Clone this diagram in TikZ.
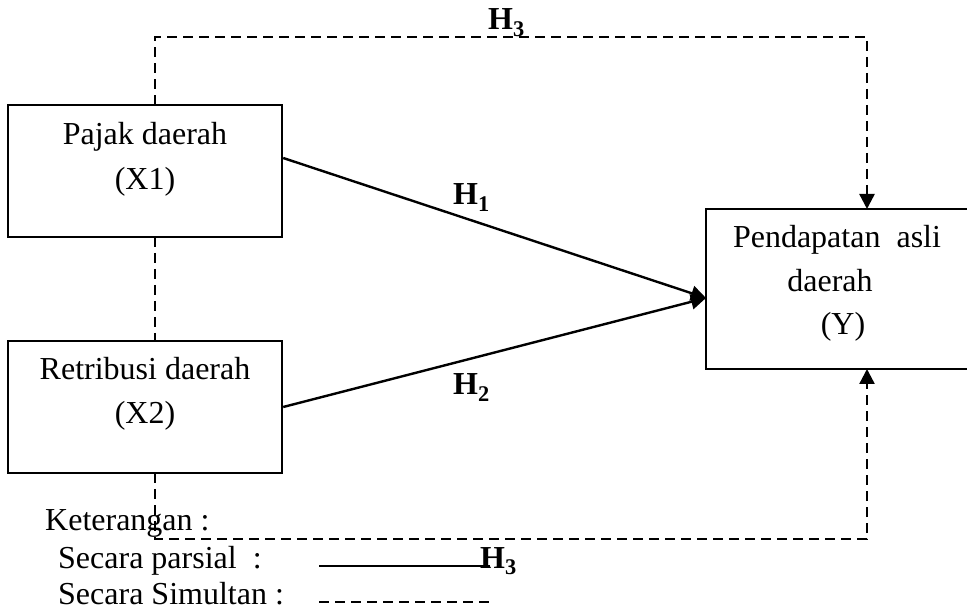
\documentclass[tikz,border=0pt]{standalone}
\usepackage{fontspec}
\setmainfont{Liberation Serif}
\usetikzlibrary{arrows.meta,calc}
\begin{document}
\begin{tikzpicture}[x=1pt,y=-1pt,
  box/.style={draw,line width=2.4pt,inner sep=0pt},
  txt/.style={anchor=base,inner sep=0pt,font=\fontsize{32}{44}\selectfont},
  lbl/.style={anchor=base west,inner sep=0pt,font=\fontsize{32}{44}\selectfont\bfseries},
  leg/.style={anchor=base west,inner sep=0pt,font=\fontsize{32}{44}\selectfont},
  solidline/.style={line width=2.4pt},
  dashline/.style={line width=2.4pt,dash pattern=on 10pt off 6pt},
  tip/.style={-{Triangle[length=15pt,width=15pt]}}]
\useasboundingbox (0,0) rectangle (967,609);
% boxes
\node[box,minimum width=274pt,minimum height=132pt] (x1) at (145,171) {};
\node[box,minimum width=274pt,minimum height=132pt] (x2) at (145,407) {};
\node[box,minimum width=280pt,minimum height=160pt] (y) at (846,289) {};
% box texts
\node[txt] (t1a) at (145,145) {Pajak daerah};
\node[txt] (t1b) at (145,190) {(X1)};
\node[txt] (t2a) at (145,380) {Retribusi daerah};
\node[txt] (t2b) at (145,424) {(X2)};
\node[txt] (tya) at (837,248) {Pendapatan\ \ asli};
\node[txt] (tyb) at (830,292) {daerah};
\node[txt] (tyc) at (843,335) {(Y)};
% coordinates
\coordinate (x1out) at ($(x1.east)+(0,-13)$);
\coordinate (x2out) at (x2.east);
\coordinate (yin) at (706,298);
\coordinate (x1top) at (155,105);
\coordinate (x1bot) at (155,237);
\coordinate (x2top) at (155,341);
\coordinate (x2bot) at (155,473);
\coordinate (ytop) at (867,209);
\coordinate (ybot) at (867,369);
% solid arrows
\draw[solidline,tip] (x1out) -- (yin);
\draw[solidline,tip] (x2out) -- (yin);
% dashed connectors
\draw[dashline,tip] (x1top) -- ++(0,-68) -| (ytop);
\draw[dashline] (x1bot) -- (x2top);
\draw[dashline,tip] (x2bot) -- ++(0,66) -| (ybot);
% labels
\node[lbl] (h3a) at (488,30) {H\textsubscript{3}};
\node[lbl] (h1) at (453,205) {H\textsubscript{1}};
\node[lbl] (h2) at (453,395) {H\textsubscript{2}};
% legend
\node[leg] (k) at (45,530) {Keterangan :};
\node[leg] (sp) at (58,568) {Secara parsial\ \ :};
\node[leg] (ss) at (58,604) {Secara Simultan :};
\coordinate (ls1) at (319,566);
\coordinate (ls2) at (490,566);
\coordinate (ld1) at (319,602);
\coordinate (ld2) at (493,602);
\draw[solidline] (ls1) -- (ls2);
\draw[dashline] (ld1) -- (ld2);
\node[lbl] (h3b) at (480,568) {H\textsubscript{3}};
\end{tikzpicture}
\end{document}
